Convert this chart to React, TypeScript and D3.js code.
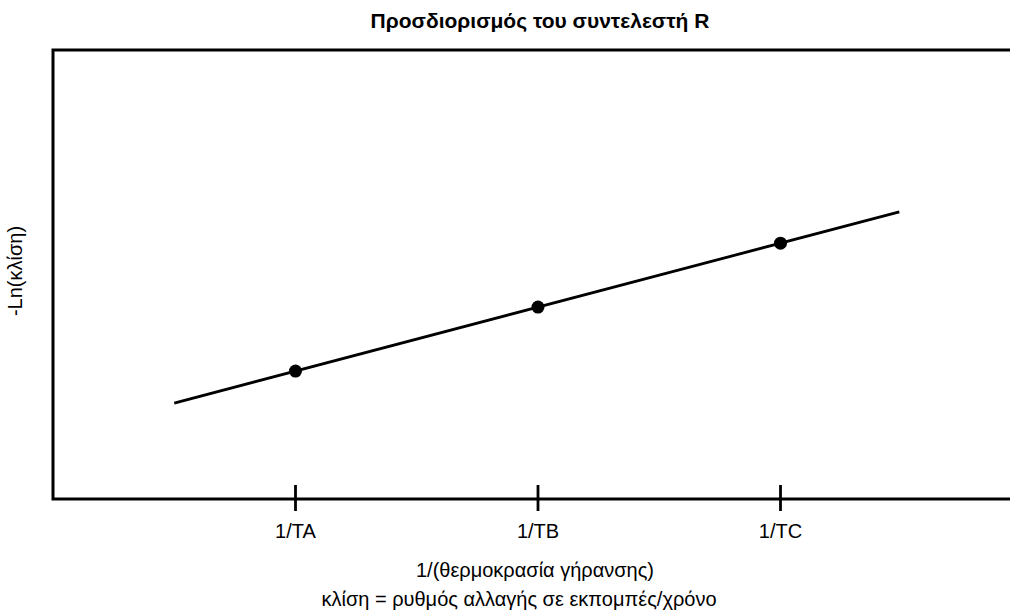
import React from "react";
import * as d3 from "d3";

const categories = ["1/TA", "1/TB", "1/TC"];
const xValues = [0, 1, 2];
const yValues = [1, 2, 3];
const fitX = [-0.5, 2.49];
const fitY = [0.5, 3.49];
const title = "Προσδιορισμός του συντελεστή R";
const xLabel = "1/(θερμοκρασία γήρανσης)";
const xLabel2 = "κλίση = ρυθμός αλλαγής σε εκπομπές/χρόνο";
const yLabel = "-Ln(κλίση)";

export default function App() {
  const W = 1010, H = 614;
  const left = 53, right = 1023, top = 50, bottom = 499;
  const x = d3.scaleLinear().domain([-1, 3]).range([left, right]);
  const y = d3.scaleLinear().domain([-1, 6.02]).range([bottom, top]);
  const line = d3.line<number>().x((_, i) => x(fitX[i])).y((d) => y(d));
  const font = "'Liberation Sans', Arial, sans-serif";
  return (
    <div style={{ position: "fixed", left: 0, top: 0 }}>
      <svg width={W} height={H} style={{ display: "block", background: "#fff" }} fontFamily={font}>
        <text x={540} y={28} textAnchor="middle" fontSize={21} fontWeight="bold">{title}</text>
        <rect x={left} y={top} width={right - left} height={bottom - top} fill="none" stroke="#000" strokeWidth={3} />
        {xValues.map((v, i) => (
          <g key={i}>
            <line x1={x(v)} x2={x(v)} y1={bottom - 14} y2={bottom + 12} stroke="#000" strokeWidth={2.8} />
            <text x={x(v)} y={538} textAnchor="middle" fontSize={20}>{categories[i]}</text>
          </g>
        ))}
        <path d={line(fitY) || ""} fill="none" stroke="#000" strokeWidth={2.8} />
        {xValues.map((v, i) => (
          <circle key={i} cx={x(v)} cy={y(yValues[i])} r={6.5} fill="#000" />
        ))}
        <text x={535} y={577} textAnchor="middle" fontSize={20}>{xLabel}</text>
        <text x={519} y={606} textAnchor="middle" fontSize={20}>{xLabel2}</text>
        <text transform="translate(22,271) rotate(-90)" textAnchor="middle" fontSize={20}>{yLabel}</text>
      </svg>
    </div>
  );
}
